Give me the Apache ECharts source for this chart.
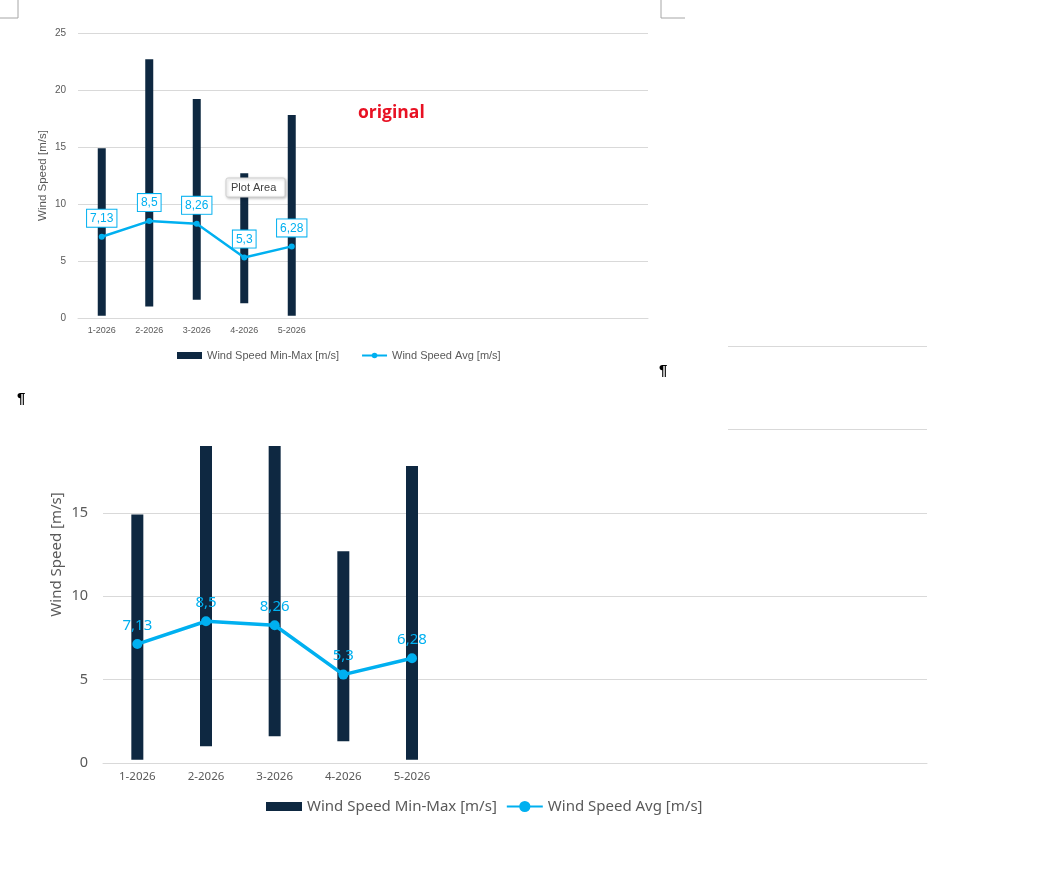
<!DOCTYPE html>
<html>
<head>
<meta charset="utf-8">
<title>Wind Speed</title>
<script src="https://cdn.jsdelivr.net/npm/echarts@6/dist/echarts.min.js"></script>
<style>
  html, body { margin: 0; padding: 0; background: #fff; }
  #chart { width: 1047px; height: 881px; }
</style>
</head>
<body>
<div id="chart"></div>
<script>
// 12 monthly slots on the axis, only the first 5 carry data
var months = ['1-2026', '2-2026', '3-2026', '4-2026', '5-2026', '', '', '', '', '', '', ''];
var speedMin = [0.2, 1.0, 1.6, 1.3, 0.2];
var speedMax = [14.9, 22.7, 19.2, 12.7, 17.8];
var speedAvg = [7.13, 8.5, 8.26, 5.3, 6.28];
var seriesNames = ['Wind Speed Min-Max [m/s]', 'Wind Speed Avg [m/s]'];

var BAR = '#0E2841', LINE = '#00B0F0', TXT = '#595959', GRID = '#D9D9D9';
var FONT = 'Liberation Sans';
var FONT2 = 'Noto Sans';

// floating bars: transparent base (min) + visible part (max - min)
var spread = speedMax.map(function (v, i) { return +(v - speedMin[i]).toFixed(2); });

function comma (p) {
  return String(p.value).replace('.', ',');
}

function buildSeries (idx, s) {
  return [
    {
      type: 'bar', name: 'base', xAxisIndex: idx, yAxisIndex: idx, stack: 'range' + idx,
      data: speedMin, barWidth: s.bar, silent: true,
      itemStyle: { color: 'transparent' }
    },
    {
      type: 'bar', name: seriesNames[0], xAxisIndex: idx, yAxisIndex: idx, stack: 'range' + idx,
      data: spread, barWidth: s.bar,
      itemStyle: { color: BAR }
    },
    {
      type: 'line', name: seriesNames[1], xAxisIndex: idx, yAxisIndex: idx,
      data: speedAvg, symbol: 'circle', symbolSize: s.dot, z: 5,
      lineStyle: { width: s.lw, color: LINE },
      itemStyle: { color: LINE },
      label: s.label
    }
  ];
}

function xAxis (idx, size) {
  return {
    gridIndex: idx, type: 'category', data: months,
    axisTick: { show: false },
    axisLine: { lineStyle: { color: GRID } },
    axisLabel: { color: TXT, fontSize: size, fontFamily: idx ? FONT2 : FONT, margin: 8, interval: 0 }
  };
}

function yAxis (idx, s) {
  return {
    gridIndex: idx, type: 'value', min: 0, max: 25, interval: 5,
    name: 'Wind Speed [m/s]', nameLocation: 'middle', nameGap: s.gap, nameMoveOverlap: false,
    nameTextStyle: { color: TXT, fontSize: s.nameSize, fontFamily: idx ? FONT2 : FONT },
    axisLine: { show: false },
    axisTick: { show: false },
    axisLabel: { color: TXT, fontSize: s.size, fontFamily: idx ? FONT2 : FONT, margin: s.margin },
    splitLine: { lineStyle: { color: GRID } }
  };
}

// legend box icon, keeps its own proportions inside the item box
var boxIcon = 'path://M0,0h36v9h-36z';

var chart = echarts.init(document.getElementById('chart'));

var option = {
  animation: false,
  grid: [
    { left: 78, top: 33, width: 570, height: 285 },
    { left: 103, top: 346, width: 824, height: 417 }
  ],
  xAxis: [xAxis(0, 9), xAxis(1, 11.5)],
  yAxis: [
    yAxis(0, { gap: 29, nameSize: 11.5, size: 10, margin: 12 }),
    yAxis(1, { gap: 39, nameSize: 15, size: 14.5, margin: 15 })
  ],
  legend: [
    {
      data: [{ name: seriesNames[0], icon: 'rect' }, { name: seriesNames[1] }],
      left: 177, top: 350, padding: 0, itemGap: 22,
      itemWidth: 25, itemHeight: 7, z: 60,
      textStyle: { color: TXT, fontSize: 11, fontFamily: FONT }
    },
    {
      data: [{ name: seriesNames[0], icon: boxIcon }, { name: seriesNames[1] }],
      left: 266, top: 799, padding: 0, itemGap: 9,
      itemWidth: 36, itemHeight: 14,
      textStyle: { color: TXT, fontSize: 15, fontFamily: FONT2 }
    }
  ],
  series: buildSeries(0, {
    bar: 8, dot: 6, lw: 2.5,
    label: {
      show: true, position: 'top', distance: 7, formatter: comma,
      color: LINE, fontSize: 12, fontFamily: FONT,
      backgroundColor: '#fff', borderColor: LINE, borderWidth: 1, padding: [3, 3, 2, 3]
    }
  }).concat(buildSeries(1, {
    bar: 12, dot: 10, lw: 3.5,
    label: {
      show: true, position: 'top', distance: 6, formatter: comma,
      color: LINE, fontSize: 15, fontFamily: FONT2
    }
  })),
  graphic: [
    // page corner marks
    { type: 'polyline', z: 70, shape: { points: [[18, 0], [18, 18], [0, 18]] }, style: { stroke: '#A6A6A6', fill: null, lineWidth: 1 } },
    { type: 'polyline', z: 70, shape: { points: [[661, 0], [661, 18], [685, 18]] }, style: { stroke: '#A6A6A6', fill: null, lineWidth: 1 } },
    // text area hiding the upper part of the second chart
    { type: 'rect', z: 50, shape: { x: 0, y: 338, width: 728, height: 108 }, style: { fill: '#fff' } },
    { type: 'text', z: 70, left: 17, top: 391, style: { text: '\u00B6', fill: '#000', font: 'bold 15px "Liberation Sans"' } },
    { type: 'text', z: 70, left: 659, top: 363, style: { text: '\u00B6', fill: '#000', font: 'bold 15px "Liberation Sans"' } },
    // annotation
    { type: 'text', z: 70, left: 358, top: 104, style: { text: 'original', fill: '#E81123', font: 'bold 17.5px "Open Sans"' } },
    // hover hint
    { type: 'rect', z: 70, shape: { x: 226, y: 178, width: 59, height: 19, r: 2 },
      style: { fill: '#fff', stroke: '#D0D0D0', lineWidth: 1, shadowBlur: 3, shadowOffsetX: 1, shadowOffsetY: 1, shadowColor: 'rgba(0,0,0,0.25)' } },
    { type: 'text', z: 71, x: 231, y: 182, style: { text: 'Plot Area', fill: '#404040', font: '11px "Liberation Sans"' } }
  ]
};

chart.setOption(option);
</script>
</body>
</html>
